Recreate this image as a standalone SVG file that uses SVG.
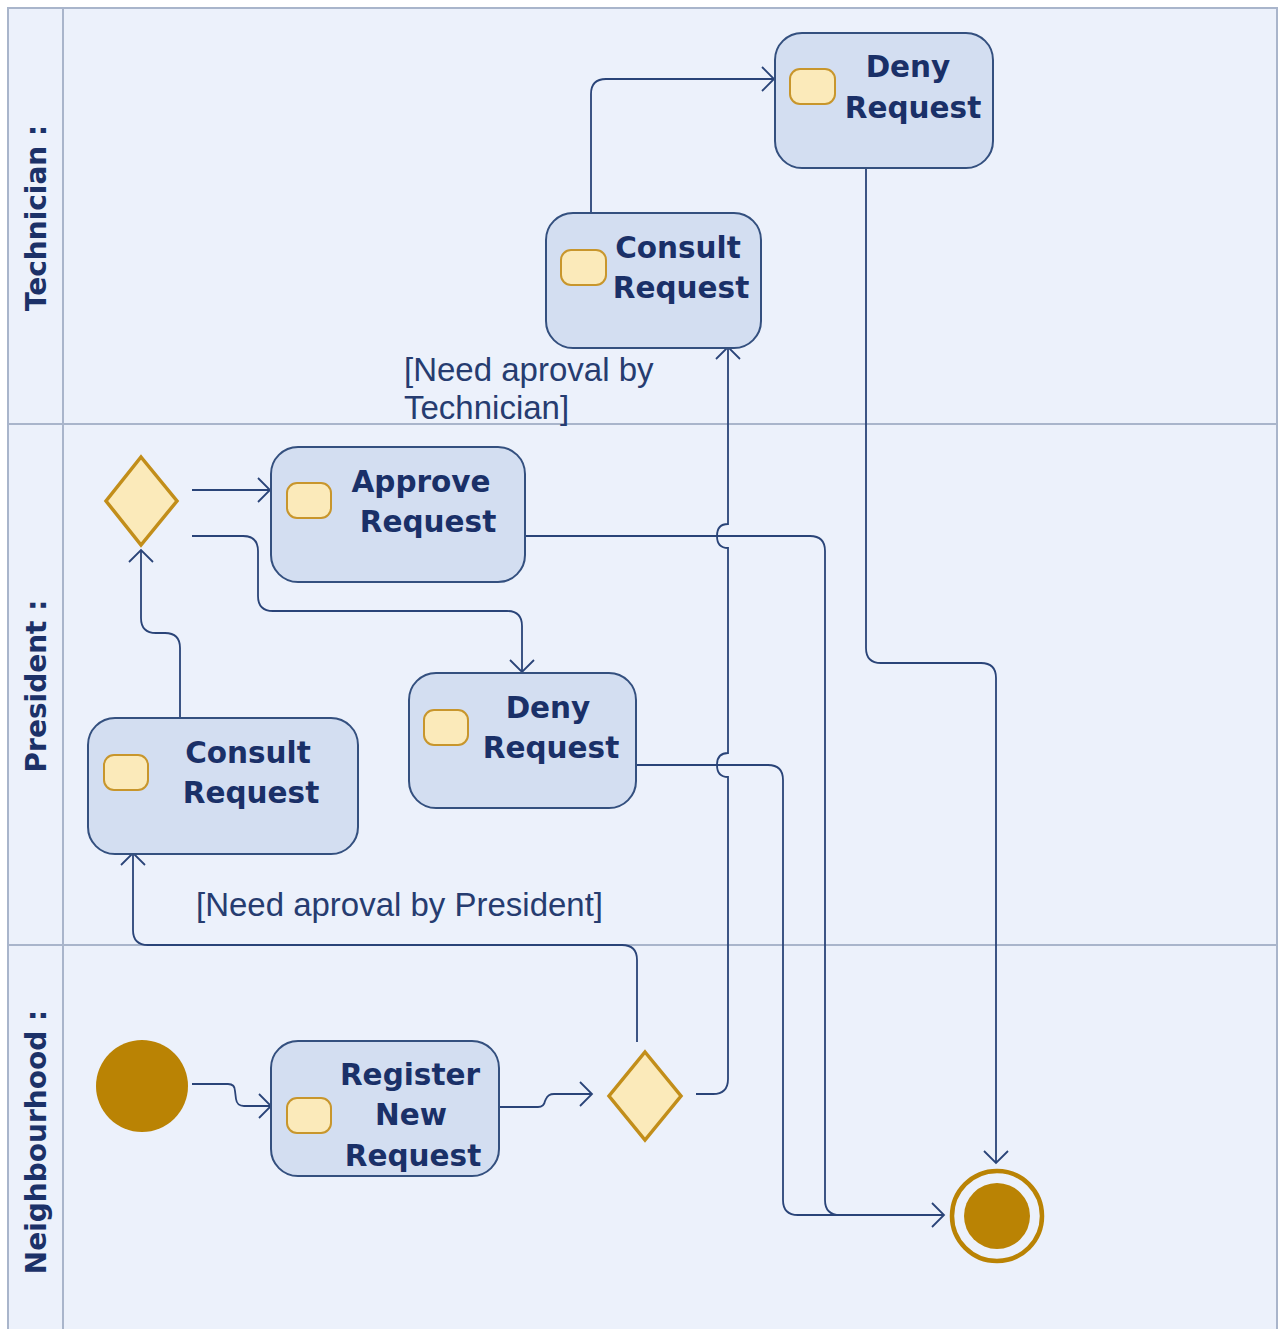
<svg xmlns="http://www.w3.org/2000/svg" width="1279" height="1329" viewBox="0 0 1279 1329">
<defs>
<style>
.lane{fill:#ECF1FB;stroke:#A9B5CB;stroke-width:2}
.sep{stroke:#A9B5CB;stroke-width:2;fill:none}
.lanelbl{font-family:"DejaVu Sans",sans-serif;font-weight:bold;font-size:28px;fill:#1C3168;text-anchor:middle}
.act{fill:#D3DEF1;stroke:#34507F;stroke-width:2}
.ico{fill:#FBEABA;stroke:#C8962C;stroke-width:2}
.txt{font-family:"DejaVu Sans",sans-serif;font-weight:bold;font-size:29.5px;fill:#1A3068;text-anchor:middle}
.dec{fill:#FBEABA;stroke:#C28E1A;stroke-width:3.5;stroke-linejoin:miter}
.guard{font-family:"Liberation Sans",Arial,sans-serif;font-size:33px;fill:#263C70}
.con{fill:none;stroke:#2A4478;stroke-width:1.8}
</style>
<marker id="arr" markerUnits="userSpaceOnUse" viewBox="-14 -14 16 28" refX="0" refY="0" markerWidth="16" markerHeight="28" orient="auto" overflow="visible">
<path d="M-12,-12 L0,0 L-12,12" fill="none" stroke="#2A4478" stroke-width="1.8"/>
</marker>
</defs>
<rect x="0" y="0" width="1279" height="1329" fill="#FFFFFF"/>
<g id="swimlanes">
<rect class="lane" x="8" y="8" width="1269" height="1340"/>
<line class="sep" x1="63" y1="8" x2="63" y2="1329"/>
<line class="sep" x1="8" y1="424" x2="1277" y2="424"/>
<line class="sep" x1="8" y1="945" x2="1277" y2="945"/>
<text class="lanelbl" transform="translate(46,218) rotate(-90)">Technician :</text>
<text class="lanelbl" transform="translate(46,686) rotate(-90)">President :</text>
<text class="lanelbl" transform="translate(46,1142) rotate(-90)">Neighbourhood :</text>
</g>
<g id="connectors">
<path class="con" d="M192,1084 L228,1084 Q235,1084 235,1091 L236,1099 Q237,1106 244,1106 L271,1106" marker-end="url(#arr)"/>
<path class="con" d="M499,1107 L538,1107 Q544,1107 545,1101 L546,1099 Q548,1094 554,1094 L592,1094" marker-end="url(#arr)"/>
<path class="con" d="M696,1094 L713,1094 Q728,1094 728,1079 L728,777 Q717,777 717,765 Q717,753 728,753 L728,548 Q717,548 717,536 Q717,524 728,524 L728,347" marker-end="url(#arr)"/>
<path class="con" d="M637,1042 L637,960 Q637,945 622,945 L148,945 Q133,945 133,930 L133,853" marker-end="url(#arr)"/>
<path class="con" d="M180,718 L180,648 Q180,633 165,633 L156,633 Q141,633 141,618 L141,550" marker-end="url(#arr)"/>
<path class="con" d="M192,490 L270,490" marker-end="url(#arr)"/>
<path class="con" d="M192,536 L243,536 Q258,536 258,551 L258,596 Q258,611 273,611 L507,611 Q522,611 522,626 L522,672" marker-end="url(#arr)"/>
<path class="con" d="M591,213 L591,94 Q591,79 606,79 L774,79" marker-end="url(#arr)"/>
<path class="con" d="M866,168 L866,648 Q866,663 881,663 L981,663 Q996,663 996,678 L996,1163" marker-end="url(#arr)"/>
<path class="con" d="M636,765 L768,765 Q783,765 783,780 L783,1200 Q783,1215 798,1215 L944,1215"/>
<path class="con" d="M525,536 L810,536 Q825,536 825,551 L825,1200 Q825,1215 840,1215 L944,1215" marker-end="url(#arr)"/>
<text class="guard" x="404" y="381">[Need aproval by</text>
<text class="guard" x="404" y="419">Technician]</text>
<text class="guard" x="196" y="916" textLength="407" lengthAdjust="spacingAndGlyphs">[Need aproval by President]</text>
</g>
<g id="tech-deny">
<rect class="act" x="775" y="33" width="218" height="135" rx="27"/>
<rect class="ico" x="790" y="69" width="45" height="35" rx="10"/>
<text class="txt" x="908" y="77">Deny</text>
<text class="txt" x="913" y="118">Request</text>
</g>
<g id="tech-consult">
<rect class="act" x="546" y="213" width="215" height="135" rx="27"/>
<rect class="ico" x="561" y="250" width="45" height="35" rx="10"/>
<text class="txt" x="678" y="258">Consult</text>
<text class="txt" x="681" y="298">Request</text>
</g>
<g id="pres-decision">
<polygon class="dec" points="141,457 177,501 141,545 106,501"/>
</g>
<g id="pres-approve">
<rect class="act" x="271" y="447" width="254" height="135" rx="27"/>
<rect class="ico" x="287" y="483" width="44" height="35" rx="10"/>
<text class="txt" x="421" y="492">Approve</text>
<text class="txt" x="428" y="532">Request</text>
</g>
<g id="pres-deny">
<rect class="act" x="409" y="673" width="227" height="135" rx="27"/>
<rect class="ico" x="424" y="710" width="44" height="35" rx="10"/>
<text class="txt" x="548" y="718">Deny</text>
<text class="txt" x="551" y="758">Request</text>
</g>
<g id="pres-consult">
<rect class="act" x="88" y="718" width="270" height="136" rx="27"/>
<rect class="ico" x="104" y="755" width="44" height="35" rx="10"/>
<text class="txt" x="248" y="763">Consult</text>
<text class="txt" x="251" y="803">Request</text>
</g>
<g id="initial">
<circle cx="142" cy="1086" r="46" fill="#BA8304"/>
</g>
<g id="register">
<rect class="act" x="271" y="1041" width="228" height="135" rx="27"/>
<rect class="ico" x="287" y="1098" width="44" height="35" rx="10"/>
<text class="txt" x="410" y="1085">Register</text>
<text class="txt" x="411" y="1125">New</text>
<text class="txt" x="413" y="1166">Request</text>
</g>
<g id="neigh-decision">
<polygon class="dec" points="645,1052 681,1096 645,1140 609,1096"/>
</g>
<g id="final">
<circle cx="997" cy="1216" r="45" fill="#ECF1FB" stroke="#BA8304" stroke-width="4.5"/>
<circle cx="997" cy="1216" r="33" fill="#BA8304"/>
</g>
</svg>
